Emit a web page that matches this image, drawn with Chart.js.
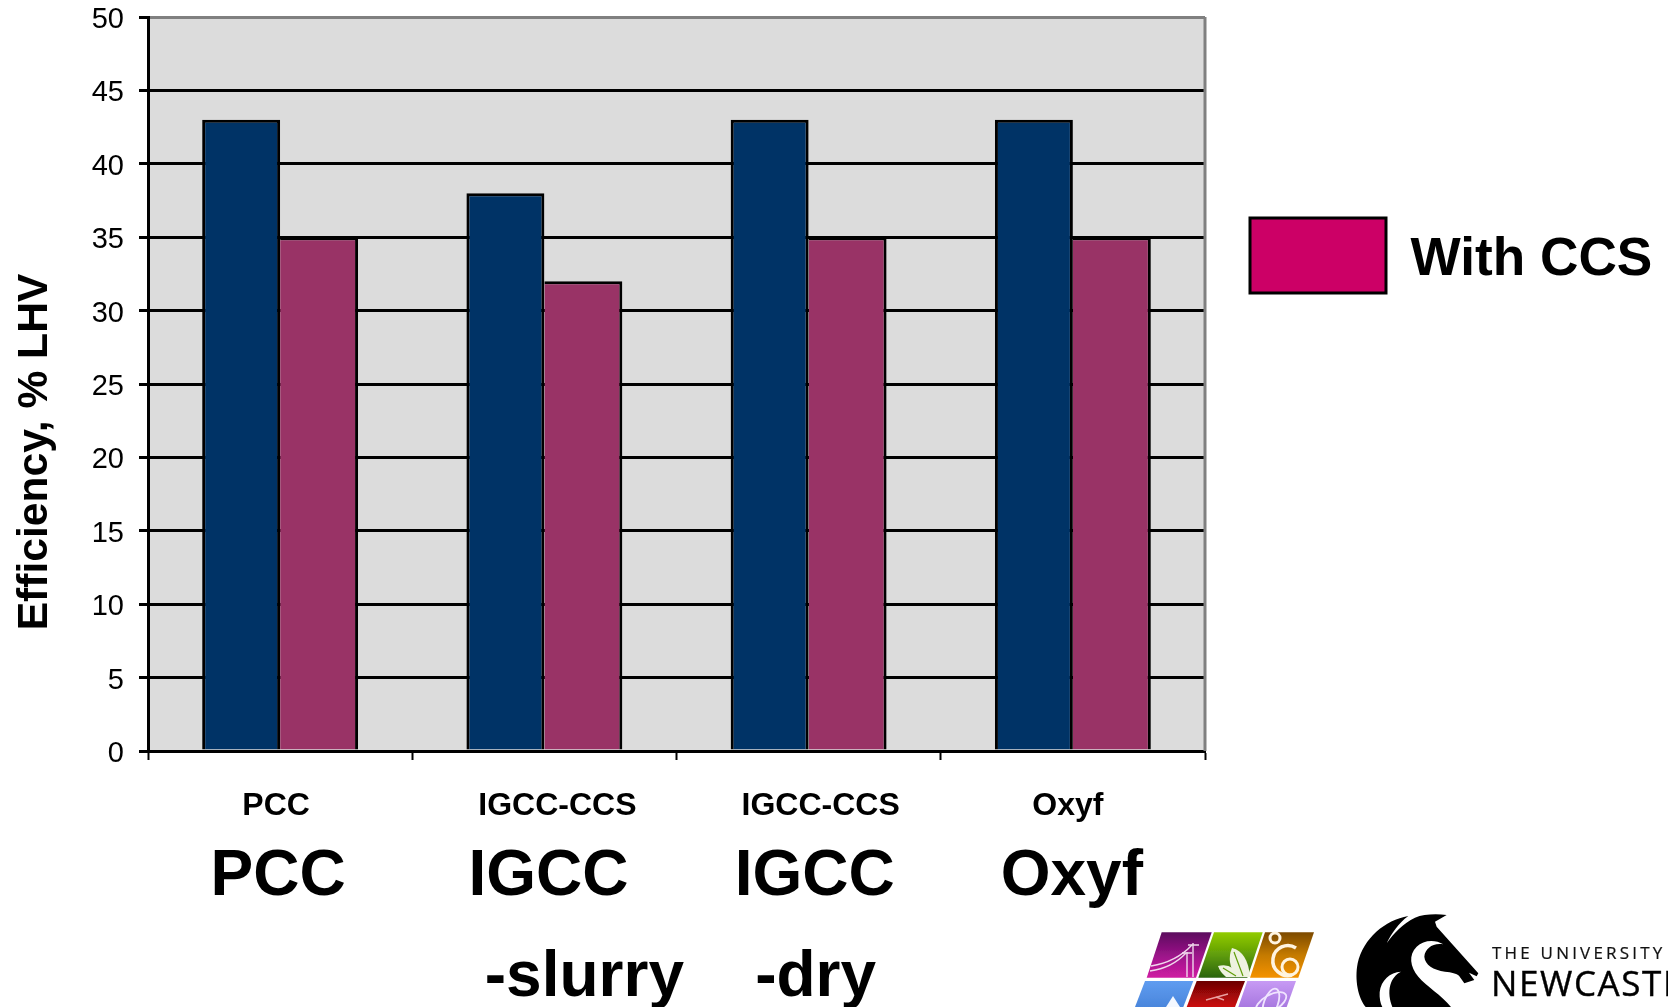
<!DOCTYPE html>
<html>
<head>
<meta charset="utf-8">
<title>Efficiency of power generation routes</title>
<script src="https://cdn.jsdelivr.net/npm/chart.js@4"></script>
<style>
  html, body { margin: 0; padding: 0; background: #fff; overflow: hidden; }
  #stage { position: relative; width: 1668px; height: 1007px; overflow: hidden; }
  canvas, svg { position: absolute; left: 0; top: 0; }
</style>
</head>
<body>
<div id="stage">
  <canvas id="chart" width="1668" height="1007"></canvas>
  <!-- Institution marks in the lower right corner -->
  <svg width="1668" height="1007" viewBox="0 0 1668 1007" xmlns="http://www.w3.org/2000/svg">
    <defs>
      <linearGradient id="g1" x1="0" y1="0" x2="0" y2="1"><stop offset="0" stop-color="#5c0a5e"/><stop offset="0.55" stop-color="#a0148c"/><stop offset="1" stop-color="#cf1ca2"/></linearGradient>
      <linearGradient id="g2" x1="0" y1="0" x2="0" y2="1"><stop offset="0" stop-color="#92cc00"/><stop offset="0.5" stop-color="#5f9c08"/><stop offset="1" stop-color="#2a6410"/></linearGradient>
      <linearGradient id="g3" x1="0" y1="0" x2="0" y2="1"><stop offset="0" stop-color="#7c4a04"/><stop offset="0.5" stop-color="#c47a04"/><stop offset="1" stop-color="#f49200"/></linearGradient>
      <linearGradient id="g4" x1="0" y1="0" x2="0" y2="1"><stop offset="0" stop-color="#5f9cf0"/><stop offset="1" stop-color="#4a86dc"/></linearGradient>
      <linearGradient id="g5" x1="0" y1="0" x2="0" y2="1"><stop offset="0" stop-color="#6c0404"/><stop offset="1" stop-color="#cc0a0a"/></linearGradient>
      <linearGradient id="g6" x1="0" y1="0" x2="0" y2="1"><stop offset="0" stop-color="#c79af4"/><stop offset="1" stop-color="#a878e0"/></linearGradient>
      <filter id="soft" x="-5%" y="-5%" width="110%" height="110%"><feGaussianBlur stdDeviation="0.5"/></filter>
    </defs>
    <g filter="url(#soft)">
      <polygon points="1161.7,932.3 1211.7,932.3 1196,977.7 1146.7,977.7" fill="url(#g1)"/>
      <polygon points="1214,932.3 1262.7,932.3 1247.3,977.7 1198.3,977.7" fill="url(#g2)"/>
      <polygon points="1265,932.3 1314,932.3 1298.3,977.7 1250,977.7" fill="url(#g3)"/>
      <polygon points="1145,981 1193.3,981 1183.3,1007 1135,1007" fill="url(#g4)"/>
      <polygon points="1196.7,981 1245,981 1235,1007 1186.7,1007" fill="url(#g5)"/>
      <polygon points="1247.3,981 1296,981 1286.7,1007 1238.3,1007" fill="url(#g6)"/>
      <!-- power lines -->
      <g stroke="#f0d8ec" stroke-width="1.4" fill="none">
        <path d="M1187 952 V977 M1193 943 V977 M1182 953 H1192 M1188 945 H1199"/>
        <path d="M1150 971 Q1172 968 1186 953 M1151 966 Q1176 962 1192 945"/>
      </g>
      <!-- leaves -->
      <path d="M1232 948 Q1248 952 1250 977 L1236 977 Q1226 962 1232 948 Z" fill="#eef2e0"/>
      <path d="M1218 966 Q1232 962 1240 977 L1226 977 Q1220 972 1218 966 Z" fill="#eef2e0"/>
      <path d="M1234 952 L1243 976 M1223 968 L1236 976" stroke="#5f9c08" stroke-width="1.2" fill="none"/>
      <!-- rings -->
      <g fill="none" stroke="#fff4e0">
        <circle cx="1275" cy="938" r="5" stroke-width="3"/>
        <path d="M1296 948 A15 15 0 1 0 1292 975" stroke-width="3.5"/>
        <circle cx="1290" cy="967" r="8" stroke-width="3"/>
      </g>
      <!-- droplet, aircraft, atom -->
      <path d="M1173 996 L1180 1007 H1166 Z" fill="#f4f8ff"/>
      <path d="M1206 1000 L1228 994 M1216 997 L1224 1000" stroke="#e8a0a0" stroke-width="1.6" fill="none"/>
      <g fill="none" stroke="#f0e4ff" stroke-width="1.8">
        <ellipse cx="1271" cy="1003" rx="17" ry="8" transform="rotate(-30 1271 1003)"/>
        <ellipse cx="1271" cy="1003" rx="7" ry="15" transform="rotate(20 1271 1003)"/>
      </g>
    </g>
    <!-- horse head crest: x = 1345 + u/3, y = 905 + v/3 -->
    <g transform="translate(1345 905) scale(0.3333)">
      <path fill="#000" d="M190 33 C120 45 55 100 38 175 C28 225 40 280 62 306 L318 306
        C290 270 245 245 220 215 C195 185 190 150 215 125 C235 105 270 102 295 118
        C265 112 240 130 238 155 C240 180 265 195 300 200 C320 202 335 205 342 212
        L358 235 L388 225 L372 203 L395 214 L400 205 L275 65 L270 50 L305 30
        C270 26 235 28 210 38 C175 55 145 85 125 115 C140 85 160 55 190 33 Z"/>
      <path fill="#fff" d="M168 200 C135 202 108 225 104 262 C103 280 106 295 112 306 L142 306
        C134 285 130 262 136 240 C141 222 152 208 168 200 Z"/>
    </g>
    <text x="1492" y="959" font-family="'Open Sans', sans-serif" font-size="17" letter-spacing="3.2" fill="#111" stroke="#111" stroke-width="0.2">THE UNIVERSITY</text>
    <text x="1491" y="996" font-family="'Open Sans', sans-serif" font-size="35" letter-spacing="1.6" fill="#000" stroke="#000" stroke-width="0.4">NEWCASTLE</text>
  </svg>
</div>
<script>
// Plant efficiency by capture route, % LHV
const categories = ['PCC', 'IGCC-CCS', 'IGCC-CCS', 'Oxyf'];
const withoutCapture = [43, 38, 43, 43];
const withCapture = [35, 32, 35, 35];
const yMin = 0;
const yMax = 50;
const yStep = 5;
const yTitle = 'Efficiency, % LHV';
const legendLabel = 'With CCS';
const routeNames = ['PCC', 'IGCC', 'IGCC', 'Oxyf'];
const routeVariants = ['', '-slurry', '-dry', ''];

const FONT = "'Liberation Sans', Arial, sans-serif";
const INK = '#000000';
const FRAME = '#808080';

// Nudges for the axis labels and route captions, relative to each category centre
const labelShift = [-4, 13, 12, -5];
const routeShift = [-2, 4, 6, -1];
const variantShift = [0, 40, 7, 0];
const valueLabelDrop = 3;

const backdropAndFrame = {
  id: 'backdropAndFrame',
  beforeDraw(chart) {
    const { ctx, chartArea: a } = chart;
    ctx.save();
    ctx.fillStyle = '#DCDCDC';
    ctx.fillRect(a.left, a.top, a.right - a.left, a.bottom - a.top);
    ctx.restore();

    // Individual placement of the axis labels
    const xs = chart.scales.x;
    xs.getLabelItems(a).forEach((item, i) => {
      item.options.translation[0] = xs.getPixelForTick(i) + labelShift[i];
    });
    const ys = chart.scales.y;
    ys.getLabelItems(a).forEach((item, i) => {
      item.options.translation[1] = ys.getPixelForTick(i) + valueLabelDrop;
    });
  },
  beforeDatasetsDraw(chart) {
    const { ctx, chartArea: a } = chart;
    ctx.save();
    ctx.strokeStyle = FRAME;
    ctx.lineWidth = 3;
    ctx.beginPath();
    ctx.moveTo(a.right, a.top);
    ctx.lineTo(a.right, a.bottom);
    ctx.stroke();
    ctx.restore();
  }
};

const annotations = {
  id: 'annotations',
  afterDraw(chart) {
    const { ctx } = chart;
    const xs = chart.scales.x;
    ctx.save();
    ctx.fillStyle = INK;

    // Rotated value-axis title
    ctx.save();
    ctx.translate(47, 452);
    ctx.rotate(-Math.PI / 2);
    ctx.font = 'bold 42.6px ' + FONT;
    ctx.textAlign = 'center';
    ctx.textBaseline = 'alphabetic';
    ctx.fillText(yTitle, 0, 0);
    ctx.restore();

    // Large route captions under the axis
    ctx.font = 'bold 64px ' + FONT;
    ctx.textAlign = 'center';
    ctx.textBaseline = 'alphabetic';
    routeNames.forEach((name, i) => {
      ctx.fillText(name, xs.getPixelForTick(i) + routeShift[i], 895);
    });
    routeVariants.forEach((name, i) => {
      if (name) ctx.fillText(name, xs.getPixelForTick(i) + variantShift[i], 996);
    });

    // Legend entry
    ctx.fillStyle = '#CC0066';
    ctx.fillRect(1250, 218, 136, 75);
    ctx.strokeStyle = INK;
    ctx.lineWidth = 3;
    ctx.strokeRect(1250, 218, 136, 75);
    ctx.fillStyle = INK;
    ctx.font = 'bold 53.2px ' + FONT;
    ctx.textAlign = 'left';
    ctx.fillText(legendLabel, 1410.5, 275);
    ctx.restore();
  }
};

new Chart(document.getElementById('chart'), {
  type: 'bar',
  data: {
    labels: categories,
    datasets: [
      {
        label: 'Without CCS',
        data: withoutCapture,
        backgroundColor: '#003366',
        borderColor: INK,
        borderWidth: { top: 3, left: 3, right: 3, bottom: 0 },
        borderSkipped: false,
        inflateAmount: 0
      },
      {
        label: legendLabel,
        data: withCapture,
        backgroundColor: '#993366',
        borderColor: INK,
        borderWidth: { top: 3, left: 0, right: 3, bottom: 0 },
        borderSkipped: false,
        inflateAmount: 0
      }
    ]
  },
  options: {
    responsive: false,
    animation: false,
    events: [],
    layout: { padding: { left: 0, top: 17, right: 463, bottom: 0 } },
    categoryPercentage: 0.59,
    barPercentage: 1,
    plugins: {
      legend: { display: false },
      title: { display: false },
      tooltip: { enabled: false }
    },
    scales: {
      x: {
        afterFit(scale) { scale.height = 256; },
        border: { display: true, color: INK, width: 3 },
        grid: {
          display: true,
          offset: true,
          drawOnChartArea: false,
          drawTicks: true,
          tickLength: 9,
          tickWidth: 2,
          tickColor: INK
        },
        ticks: {
          color: INK,
          font: { family: FONT, size: 32, weight: 'bold' },
          padding: 27,
          maxRotation: 0,
          minRotation: 0,
          autoSkip: false
        }
      },
      y: {
        min: yMin,
        max: yMax,
        // Tick labels may overhang the plot; keep the plot area pinned to the padding
        afterFit(scale) {
          scale.width = 148;
          scale.paddingTop = 0;
          scale.paddingBottom = 0;
        },
        border: { display: true, color: INK, width: 3 },
        grid: {
          display: true,
          lineWidth: 3,
          tickLength: 9,
          tickWidth: 3,
          tickColor: INK,
          color: ctx => (ctx.tick && ctx.tick.value === yMax ? FRAME : INK)
        },
        ticks: {
          stepSize: yStep,
          color: INK,
          font: { family: FONT, size: 29 },
          padding: 15
        }
      }
    }
  },
  plugins: [backdropAndFrame, annotations]
});
</script>
</body>
</html>
